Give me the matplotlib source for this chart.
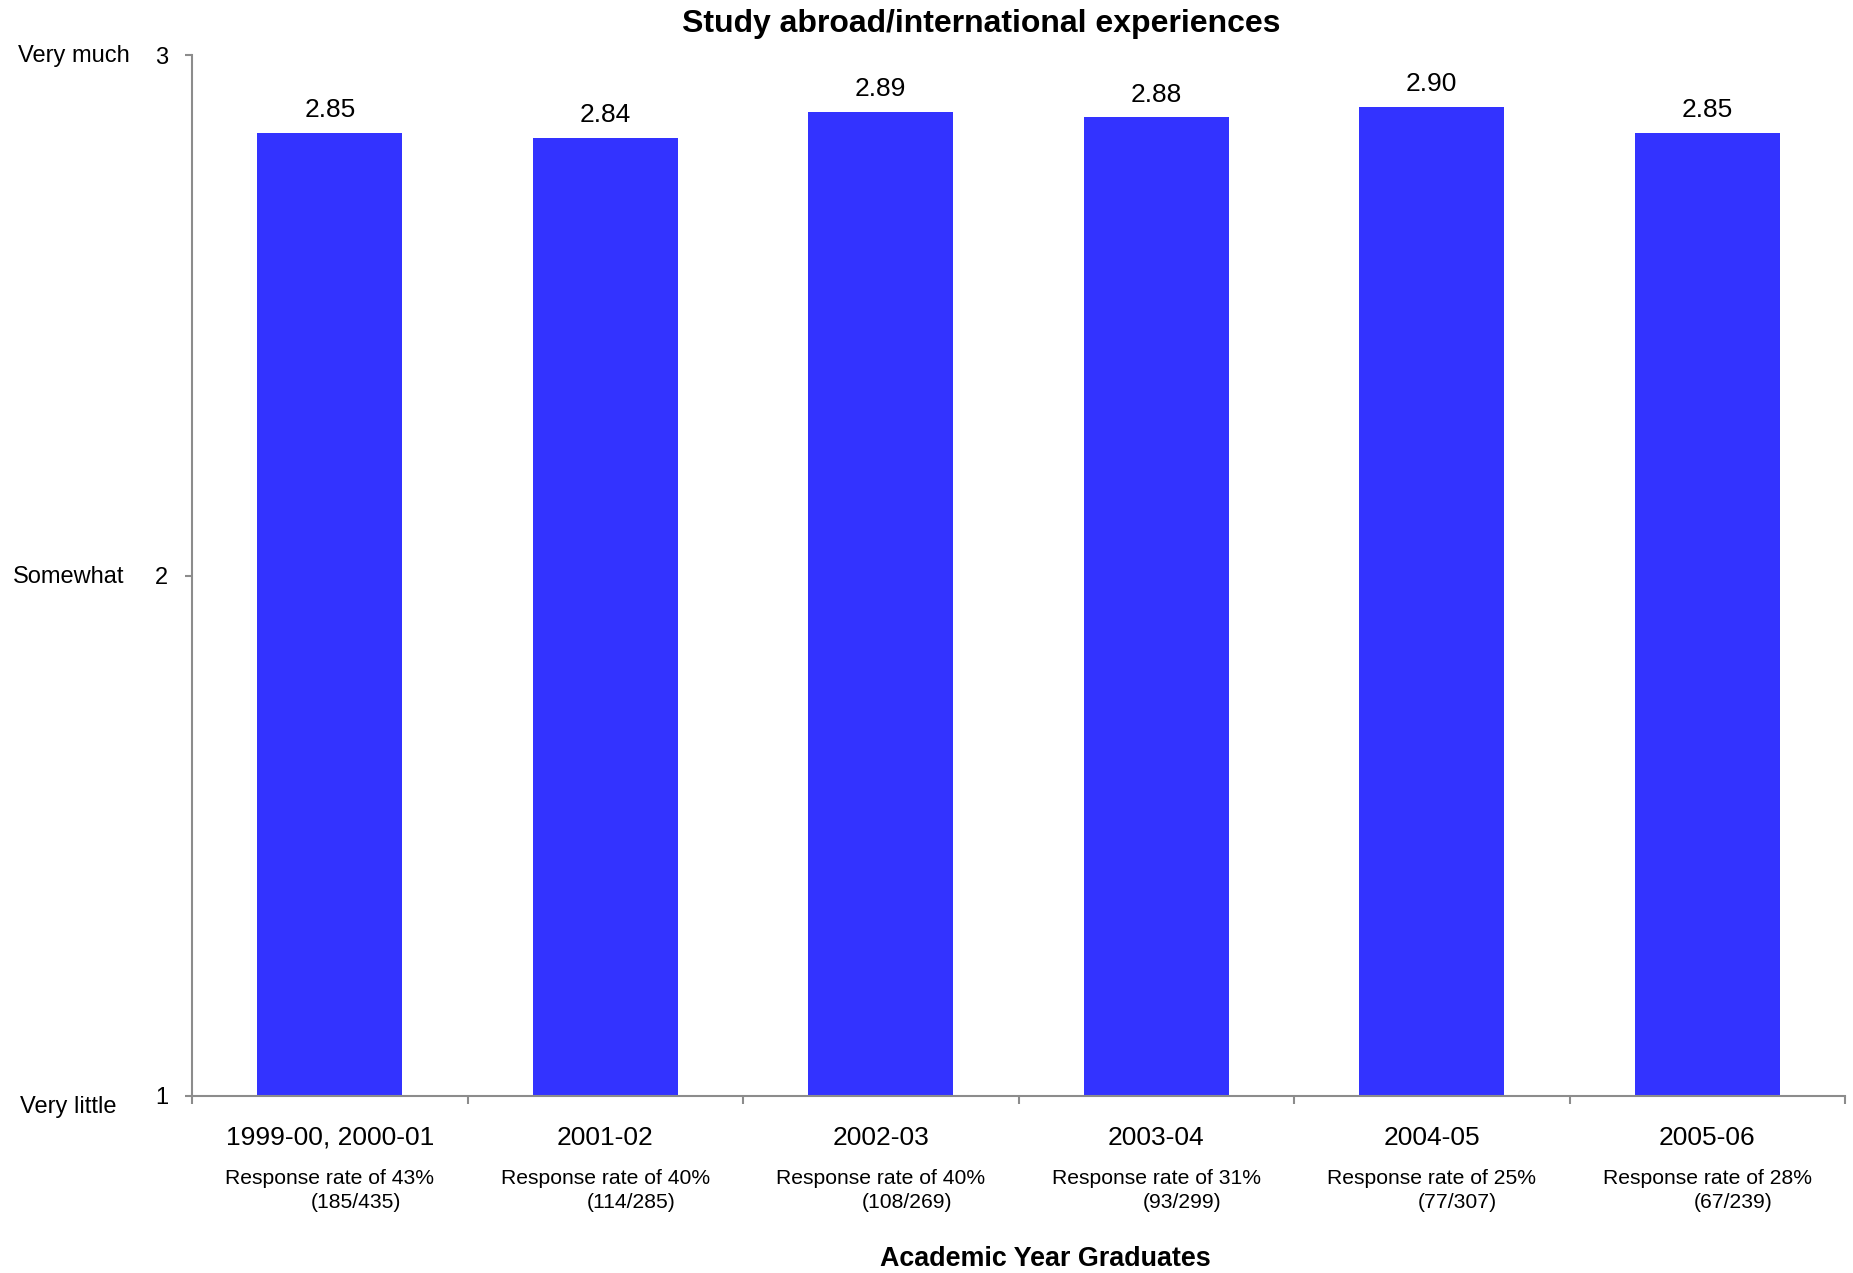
import matplotlib
matplotlib.use("Agg")
import matplotlib.pyplot as plt
import numpy as np

plt.rcParams['font.family'] = ['Liberation Sans', 'DejaVu Sans']

categories = ["1999-00, 2000-01", "2001-02", "2002-03", "2003-04", "2004-05", "2005-06"]
values = [2.85, 2.84, 2.89, 2.88, 2.90, 2.85]
rates = ["43%", "40%", "40%", "31%", "25%", "28%"]
counts = ["(185/435)", "(114/285)", "(108/269)", "(93/299)", "(77/307)", "(67/239)"]
y_ticks = [1, 2, 3]
y_words = ["Very little", "Somewhat", "Very much"]

W, H = 1853, 1273
fig = plt.figure(figsize=(W / 100, H / 100), dpi=100)
ax = fig.add_axes([192 / W, 1 - 1096 / H, (1845 - 192) / W, (1096 - 55) / H])

x = np.arange(len(categories))
ax.bar(x, [v - 1 for v in values], bottom=1, width=0.527, color="#3333FF", zorder=2)
ax.set_xlim(-0.5, len(categories) - 0.5)
ax.set_ylim(1, 3)

for xi, v in zip(x, values):
    ax.annotate(f"{v:.2f}", (xi, v), xytext=(0, 7.8), textcoords="offset points",
                ha="center", va="bottom", fontsize=19)

for s in ["top", "right"]:
    ax.spines[s].set_visible(False)
for s in ["left", "bottom"]:
    ax.spines[s].set_color("#8c8c8c")
    ax.spines[s].set_linewidth(1.5)

ax.set_yticks(y_ticks)
ax.set_yticklabels([str(t) for t in y_ticks], fontsize=17)
ax.tick_params(axis="y", direction="out", length=5, width=1.5, color="#8c8c8c", pad=12)
ax.set_xticks(np.arange(len(categories) + 1) - 0.5)
ax.set_xticklabels([])
ax.tick_params(axis="x", direction="out", length=6, width=1.5, color="#8c8c8c")

# word labels for y
word_pos = [(20, 1107), (13, 577), (18, 56)]
for w, (px, py) in zip(y_words, word_pos):
    fig.text(px / W, 1 - py / H, w, ha="left", va="center", fontsize=17)

# category labels
for xi, c, r, n in zip(x, categories, rates, counts):
    ax.annotate(c, (xi, 1), xytext=(0, -42 * 0.72), textcoords="offset points",
                ha="center", va="center", fontsize=19)
    ax.annotate(f"Response rate of {r}", (xi, 1), xytext=(0, -82 * 0.72), textcoords="offset points",
                ha="center", va="center", fontsize=15.2)
    ax.annotate(n, (xi, 1), xytext=(26 * 0.72, -107 * 0.72), textcoords="offset points",
                ha="center", va="center", fontsize=15.2)

fig.text(981 / W, 1 - 24 / H, "Study abroad/international experiences",
         ha="center", va="center", fontsize=23, fontweight="bold")
fig.text(1045 / W, 1 - 1259 / H, "Academic Year Graduates",
         ha="center", va="center", fontsize=19.4, fontweight="bold")

fig.savefig("out.png", dpi=100)
